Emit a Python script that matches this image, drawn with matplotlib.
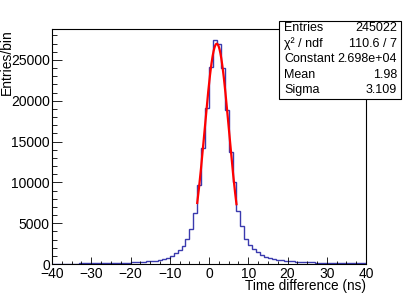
import numpy as np
import matplotlib
matplotlib.use("Agg")
import matplotlib.pyplot as plt
from matplotlib.ticker import MultipleLocator
from matplotlib.patches import Rectangle

plt.rcParams['font.family'] = ['Liberation Sans', 'DejaVu Sans']

# histogram: 80 bins of 1 ns from -40 to 40
bin_edges = np.arange(-40, 41, 1)
counts = [40, 40, 45, 50, 50, 55, 60, 65, 70, 75,
          80, 85, 95, 100, 110, 120, 130, 140, 150, 165,
          185, 210, 240, 270, 310, 360, 420, 500, 610, 770,
          1020, 1300, 1700, 2170, 3060, 4280, 6280, 9670, 14260, 19060,
          24150, 27380, 27000, 23950, 18850, 13670, 10000, 6490, 4650, 3060,
          2350, 1810, 1420, 1100, 880, 730, 620, 540, 470, 410,
          360, 320, 290, 260, 230, 210, 190, 170, 155, 140,
          130, 120, 110, 100, 95, 90, 85, 80, 75, 70]

# gaussian fit result
fit_const = 2.698e4
fit_mean = 1.98
fit_sigma = 3.109
fit_range = (-3, 7)

stat_labels = ['Entries', 'χ² / ndf', 'Constant', 'Mean', 'Sigma']
stat_values = ['245022', '110.6 / 7', '2.698e+04', '1.98', '3.109']

fig = plt.figure(figsize=(4.07, 2.94), dpi=100)
ax = fig.add_axes([52/407, 30/294, 314/407, 234.7/294])

ax.stairs(counts, bin_edges, baseline=None, color='#3a3aae', lw=1.0)

xf = np.linspace(fit_range[0], fit_range[1], 200)
yf = fit_const * np.exp(-0.5 * ((xf - fit_mean) / fit_sigma) ** 2)
ax.plot(xf, yf, color='red', lw=1.6)

ax.set_xlim(-40, 40)
ax.set_ylim(0, 1.05 * max(counts))
ax.xaxis.set_major_locator(MultipleLocator(10))
ax.xaxis.set_minor_locator(MultipleLocator(2.5))
ax.yaxis.set_major_locator(MultipleLocator(5000))
ax.yaxis.set_minor_locator(MultipleLocator(1000))
ax.tick_params(axis='both', which='both', direction='in', top=False, right=False,
               labelsize=10, width=0.6)
ax.tick_params(axis='y', which='major', length=7, pad=1.5)
ax.tick_params(axis='y', which='minor', length=3.6)
ax.tick_params(axis='x', which='major', length=5, pad=2)
ax.tick_params(axis='x', which='minor', length=2.5)
for s in ax.spines.values():
    s.set_linewidth(0.8)

ax.set_xlabel('Time difference (ns)', fontsize=9.8, loc='right')
ax.xaxis.set_label_coords(1.0, -0.066)
ax.set_ylabel('Entries/bin', fontsize=10, loc='top')
ax.yaxis.set_label_coords(-0.123, 1.0)

# stats box
x0, x1 = 279/407, 401/407
ytop, ybot = 1 - 21/294, 1 - 99/294
fig.add_artist(Rectangle((x0, ybot), x1 - x0, ytop - ybot, transform=fig.transFigure,
                         facecolor='white', edgecolor='black', lw=0.8, zorder=5))
row_h = (ytop - ybot) / len(stat_labels)
for i, (lab, val) in enumerate(zip(stat_labels, stat_values)):
    yc = ytop - (i + 0.45) * row_h
    fig.text(284/407, yc, lab, fontsize=9, ha='left', va='center', zorder=6)
    fig.text(397/407, yc, val, fontsize=9, ha='right', va='center', zorder=6)

fig.savefig('out.png', dpi=100)
